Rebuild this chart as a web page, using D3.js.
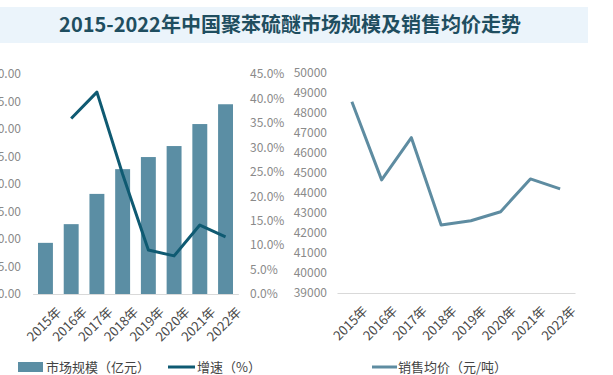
<!DOCTYPE html>
<html>
<head>
<meta charset="utf-8">
<script src="https://cdn.jsdelivr.net/npm/d3@7/dist/d3.min.js"></script>
<style>
  body { margin: 0; background: #fff; }
  svg { display: block; font-family: "Noto Sans CJK SC", "Noto Sans", sans-serif; }
</style>
</head>
<body>
<script>
const years = ["2015年", "2016年", "2017年", "2018年", "2019年", "2020年", "2021年", "2022年"];
const marketSize = [9.3, 12.7, 18.2, 22.7, 24.9, 26.9, 30.9, 34.5];   // 亿元
const growth = [null, 35.9, 41.3, 24.5, 9.0, 7.8, 14.1, 11.7];        // %
const avgPrice = [48540, 44630, 46740, 42380, 42590, 43040, 44680, 44180]; // 元/吨
const sizeTicks = [0, 5, 10, 15, 20, 25, 30, 35, 40];
const growthTicks = [0, 5, 10, 15, 20, 25, 30, 35, 40, 45];
const priceTicks = [39000, 40000, 41000, 42000, 43000, 44000, 45000, 46000, 47000, 48000, 49000, 50000];

const width = 613, height = 375;
const barColor = "#5b8ea4";
const growthColor = "#0f5a72";
const priceColor = "#5e8ca1";
const tickColor = "#8a8a8a";

const svg = d3.select("body").append("svg")
    .attr("width", width)
    .attr("height", height);

// title band
svg.append("rect")
    .attr("x", 0).attr("y", 7)
    .attr("width", 588).attr("height", 36)
    .attr("fill", "#ebf4fb");
svg.append("text")
    .attr("x", 290).attr("y", 32)
    .attr("text-anchor", "middle")
    .attr("font-size", 20)
    .attr("font-weight", "bold")
    .attr("fill", "#1f4e60")
    .text("2015-2022年中国聚苯硫醚市场规模及销售均价走势");

// ---- left chart: bars + growth line
const x1 = d3.scaleBand().domain(years).range([32.6, 238.4]).paddingInner(0.42).paddingOuter(0.21);
const y1 = d3.scaleLinear().domain([0, 40]).range([294, 74]);
const y2 = d3.scaleLinear().domain([0, 45]).range([294, 74]);

svg.append("g")
    .selectAll("rect")
    .data(marketSize)
    .enter().append("rect")
    .attr("x", (d, i) => x1(years[i]))
    .attr("y", d => y1(d))
    .attr("width", x1.bandwidth())
    .attr("height", d => y1(0) - y1(d))
    .attr("fill", barColor);

const leftY = svg.append("g")
    .attr("transform", "translate(24,0)")
    .call(d3.axisLeft(y1).tickValues(sizeTicks).tickSize(0).tickPadding(3).tickFormat(d3.format(".2f")));
leftY.select(".domain").remove();

const rightY = svg.append("g")
    .attr("transform", "translate(247,0)")
    .call(d3.axisRight(y2).tickValues(growthTicks).tickSize(0).tickPadding(3).tickFormat(d => d.toFixed(1) + "%"));
rightY.select(".domain").remove();

const xAxis1 = svg.append("g")
    .attr("transform", "translate(0,294)")
    .call(d3.axisBottom(x1).tickSize(0).tickPadding(6));
xAxis1.select(".domain").attr("stroke", "#d9d9d9");

const growthLine = d3.line()
    .defined(d => d != null)
    .x((d, i) => x1(years[i]) + x1.bandwidth() / 2)
    .y(d => y2(d));
svg.append("path")
    .datum(growth)
    .attr("d", growthLine)
    .attr("fill", "none")
    .attr("stroke", growthColor)
    .attr("stroke-width", 3)
    .attr("stroke-linejoin", "round");

// ---- right chart: price line
const x2 = d3.scaleBand().domain(years).range([337, 575]);
const y3 = d3.scaleLinear().domain([39000, 50000]).range([292.5, 72.5]);

const priceY = svg.append("g")
    .attr("transform", "translate(330,0)")
    .call(d3.axisLeft(y3).tickValues(priceTicks).tickSize(0).tickPadding(3).tickFormat(d3.format("d")));
priceY.select(".domain").remove();

const xAxis2 = svg.append("g")
    .attr("transform", "translate(0,293)")
    .call(d3.axisBottom(x2).tickSize(0).tickPadding(6));
xAxis2.select(".domain").attr("stroke", "#d9d9d9");

const priceLine = d3.line()
    .x((d, i) => x2(years[i]) + x2.bandwidth() / 2)
    .y(d => y3(d));
svg.append("path")
    .datum(avgPrice)
    .attr("d", priceLine)
    .attr("fill", "none")
    .attr("stroke", priceColor)
    .attr("stroke-width", 3)
    .attr("stroke-linejoin", "round");

svg.selectAll(".tick text")
    .attr("fill", tickColor)
    .attr("font-size", 12)
    .attr("font-family", "'Noto Sans CJK SC', sans-serif");

// rotated year labels, a bit larger and darker
[xAxis1, xAxis2].forEach(ax => {
    ax.selectAll(".tick text")
        .attr("fill", "#4a4a4a")
        .attr("font-size", 13)
        .attr("text-anchor", "end")
        .attr("dy", "0.7em")
        .attr("transform", "translate(6,8) rotate(-45)");
});

// ---- legends
const legend = svg.append("g").attr("font-size", 13).attr("fill", "#444");
legend.append("rect").attr("x", 18).attr("y", 362).attr("width", 25).attr("height", 10).attr("fill", barColor);
legend.append("text").attr("x", 46).attr("y", 372).text("市场规模（亿元）");
legend.append("line").attr("x1", 168).attr("x2", 195).attr("y1", 367).attr("y2", 367)
    .attr("stroke", growthColor).attr("stroke-width", 3);
legend.append("text").attr("x", 197).attr("y", 372).text("增速（%）");
legend.append("line").attr("x1", 372).attr("x2", 397).attr("y1", 367).attr("y2", 367)
    .attr("stroke", priceColor).attr("stroke-width", 3);
legend.append("text").attr("x", 398).attr("y", 372).text("销售均价（元/吨）");
</script>
</body>
</html>
